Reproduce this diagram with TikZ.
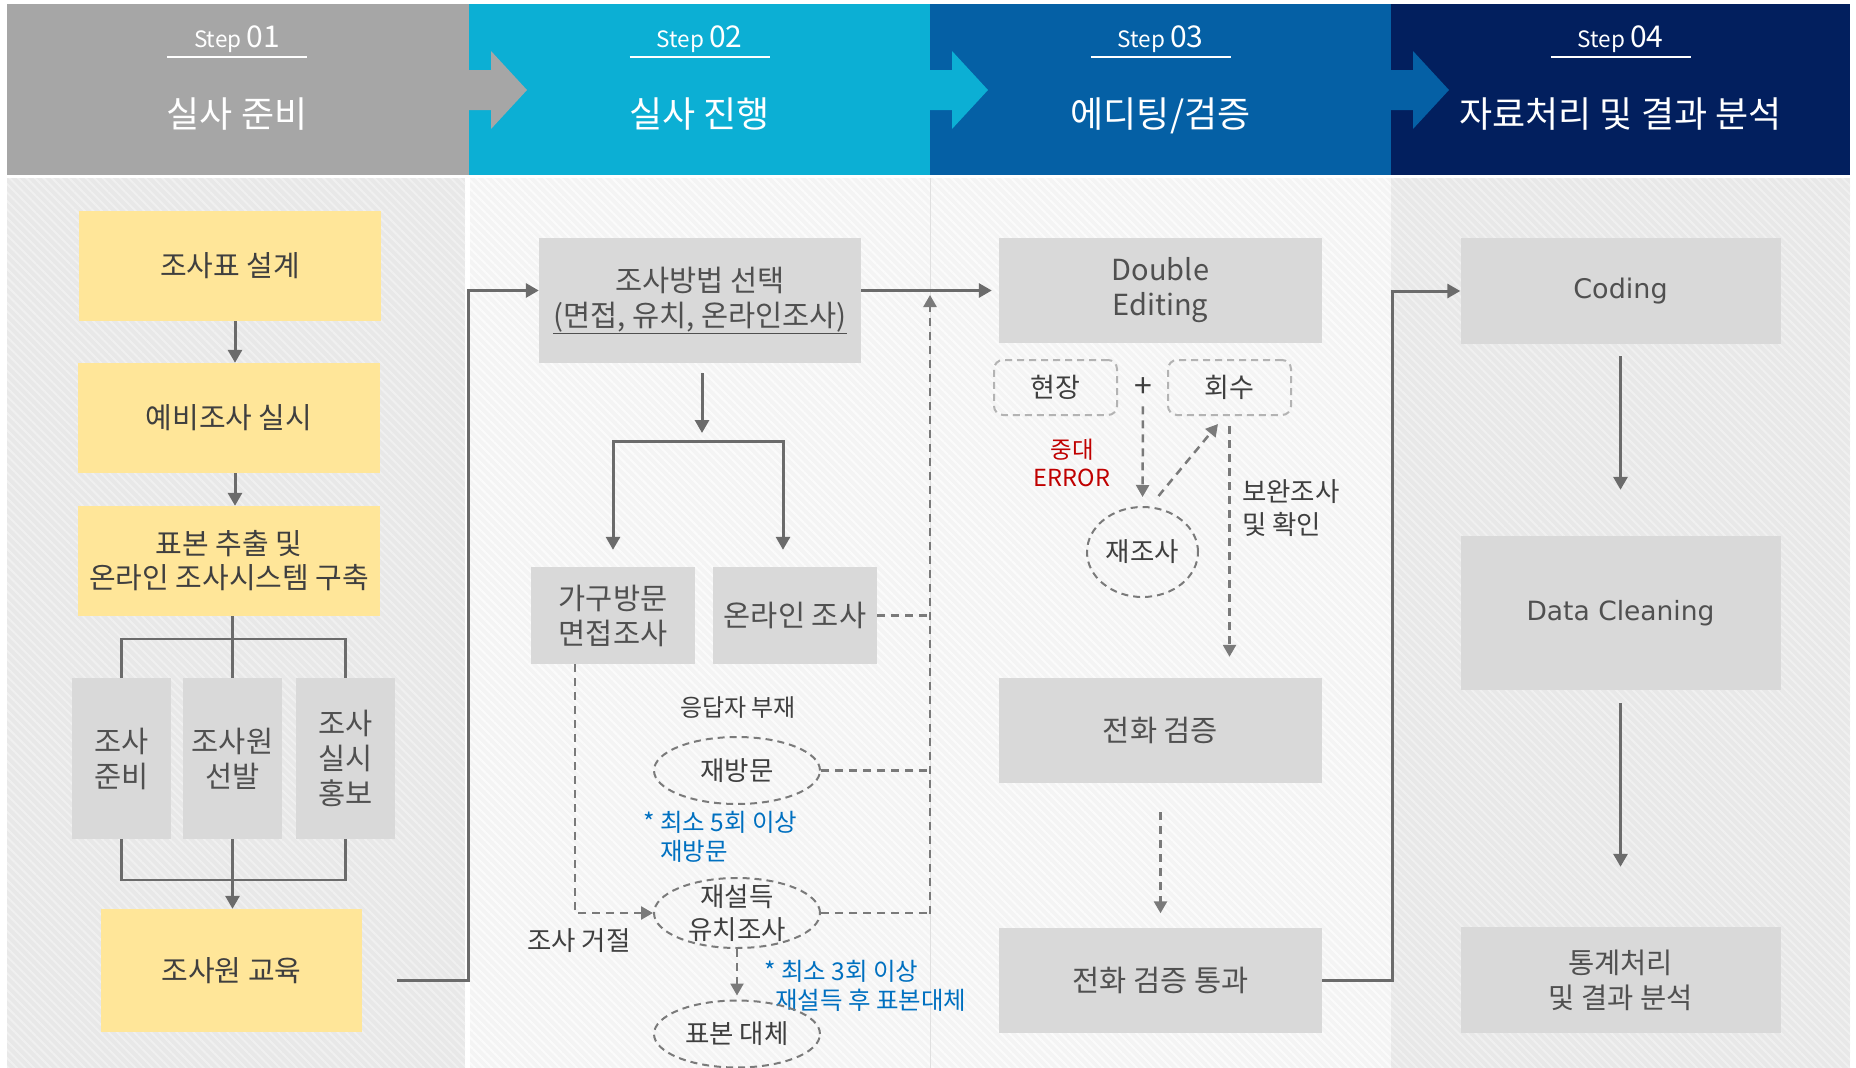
\documentclass[tikz,border=0pt]{standalone}
\usepackage{fontspec}
\setmainfont{Noto Sans CJK KR}
\newfontfamily\latinwide{DejaVu Sans}
\usetikzlibrary{shapes.geometric, arrows.meta, patterns.meta}

\definecolor{hdgray}{HTML}{A6A6A6}
\definecolor{hdcyan}{HTML}{0CAFD4}
\definecolor{hdblue}{HTML}{0560A5}
\definecolor{hdnavy}{HTML}{021F5E}
\definecolor{bgdark}{HTML}{E8E8E8}
\definecolor{bglight}{HTML}{F4F4F4}
\definecolor{stripedark}{HTML}{F0F0F0}
\definecolor{stripelight}{HTML}{FBFBFB}
\definecolor{boxyellow}{HTML}{FFE699}
\definecolor{boxgray}{HTML}{D9D9D9}
\definecolor{linegray}{HTML}{6B6B6B}
\definecolor{dashgray}{HTML}{7A7A7A}
\definecolor{framegray}{HTML}{B3B3B3}
\definecolor{txtdark}{HTML}{3F3F3F}
\definecolor{txtgray}{HTML}{505050}
\definecolor{noteblue}{HTML}{0070C0}
\definecolor{notered}{HTML}{C00000}

\begin{document}
\begin{tikzpicture}
  [x=1pt, y=-1pt,
  ybox/.style={rectangle, fill=boxyellow, text=txtdark, align=center,
    minimum width=302pt, minimum height=110pt, font=\fontsize{29}{34}\selectfont},
  sbox/.style={rectangle, fill=boxgray, text=txtgray, align=center,
    minimum width=99pt, minimum height=161pt, font=\fontsize{29.5}{35}\selectfont},
  gbox/.style={rectangle, fill=boxgray, text=txtgray, align=center,
    minimum width=323pt, minimum height=105pt, font=\fontsize{29.5}{35}\selectfont},
  dbox/.style={rectangle, rounded corners=9pt, draw=framegray, line width=2pt,
    dash pattern=on 7pt off 5pt, minimum width=123pt, minimum height=55pt,
    text=txtdark, font=\fontsize{27}{28}\selectfont},
  oval/.style={ellipse, draw=dashgray, line width=2pt, dash pattern=on 7pt off 5pt,
    inner sep=0pt, minimum width=166pt, minimum height=67pt, align=center,
    text=txtdark, font=\fontsize{26.5}{33}\selectfont},
  note/.style={text=txtdark, align=center, font=\fontsize{26.5}{33}\selectfont},
  bluenote/.style={text=noteblue, align=left, anchor=west, inner sep=0pt,
    font=\fontsize{24.5}{29}\selectfont},
  rednote/.style={text=notered, align=center, font=\fontsize{23.5}{28}\selectfont},
  steptext/.style={text=white, anchor=base, inner sep=0pt},
  line/.style={draw=linegray, line width=3pt, -{Triangle[width=14pt,length=13pt]}},
  bracket/.style={draw=linegray, line width=2.5pt},
  dline/.style={draw=dashgray, line width=2.5pt, dash pattern=on 8pt off 6pt,
    -{Triangle[width=13pt,length=12pt]}}]

  \useasboundingbox (0,0) rectangle (1856,1068);

  % backgrounds
  \fill [bgdark] (7,178) rectangle (465,1068);
  \fill [bglight] (470,178) rectangle (1391,1068);
  \fill [bgdark] (1391,178) rectangle (1850,1068);
  \fill [pattern={Lines[angle=-45,distance=6pt,line width=2pt]}, pattern color=stripedark]
    (7,178) rectangle (465,1068);
  \fill [pattern={Lines[angle=-45,distance=6pt,line width=2pt]}, pattern color=stripelight]
    (470,178) rectangle (1391,1068);
  \fill [pattern={Lines[angle=-45,distance=6pt,line width=2pt]}, pattern color=stripedark]
    (1391,178) rectangle (1850,1068);
  \draw [white!88!black, line width=1pt] (930,178) -- (930,1068);

  % header
  \fill [hdgray] (7,4) rectangle (469,175);
  \fill [hdcyan] (469,4) rectangle (930,175);
  \fill [hdblue] (930,4) rectangle (1391,175);
  \fill [hdnavy] (1391,4) rectangle (1850,175);
  \foreach \x/\c in {469/hdgray, 930/hdcyan, 1391/hdblue}
    \fill [\c] (\x,70) -- ++(22,0) -- ++(0,-19) -- ++(36,39) -- ++(-36,39)
      -- ++(0,-19) -- ++(-22,0) -- cycle;
  \foreach \cx/\n/\t in {237/01/{실사 준비}, 699.5/02/{실사 진행},
      1160.5/03/{에디팅/검증}, 1620.5/04/{자료처리 및 결과 분석}} {
    \node [steptext] (step\n) at (\cx,47)
      {\fontsize{22.5}{22}\selectfont Step \fontsize{30}{30}\selectfont\n};
    \draw [white, line width=1.5pt] (\cx-70,57) -- (\cx+70,57);
    \node [steptext] (title\n) at (\cx,127) {\fontsize{36}{36}\selectfont\t};
  }

  % step 01
  \node [ybox] (design) at (230,266) {조사표 설계};
  \node [ybox] (pilot) at (229,418) {예비조사 실시};
  \node [ybox] (sample) at (229,561) {표본 추출 및\\온라인 조사시스템 구축};
  \node [sbox] (prep) at (121.5,758.5) {조사\\준비};
  \node [sbox] (recruit) at (232.5,758.5) {조사원\\선발};
  \node [sbox] (promo) at (345.5,758.5) {조사\\실시\\홍보};
  \node [ybox, minimum width=261pt, minimum height=123pt] (train) at (231.5,970.5) {조사원 교육};
  \coordinate (trainout) at (397,980);

  % step 02
  \node [gbox, minimum width=322pt, minimum height=125pt] (method) at (700,300.5)
    {조사방법 선택\\\underline{(면접, 유치, 온라인조사)}};
  \coordinate (split) at (702,441);
  \node [gbox, minimum width=164pt, minimum height=97pt] (visit) at (613,615.5) {가구방문\\면접조사};
  \node [gbox, minimum width=164pt, minimum height=97pt] (online) at (795,615.5) {온라인 조사};
  \node [note, font=\fontsize{24}{26}\selectfont] (absent) at (738,708) {응답자 부재};
  \node [oval] (revisit) at (737,770.5) {재방문};
  \node [bluenote] (fivetimes) at (643,837) {* 최소 5회 이상\\\hspace*{17pt}재방문};
  \node [oval, minimum height=70pt, inner ysep=-8pt] (persuade) at (737,913) {재설득\\유치조사};
  \node [note] (refuse) at (579,941) {조사 거절};
  \node [bluenote] (threetimes) at (764,985.5) {* 최소 3회 이상\\\hspace*{11pt}재설득 후 표본대체};
  \node [oval] (replace) at (737,1034) {표본 대체};
  \coordinate (spinetop) at (930,295);
  \coordinate (spinebot) at (930,914);

  % step 03
  \node [gbox, font=\fontsize{29}{35}\selectfont] (dedit) at (1160.5,290.5) {Double\\Editing};
  \node [dbox] (field) at (1055.5,387.5) {현장};
  \node [note, font=\fontsize{32}{32}\selectfont] (plus) at (1143,388) {+};
  \node [dbox] (collect) at (1229.5,387.5) {회수};
  \node [rednote] (error) at (1072,463) {중대\\ERROR};
  \node [oval, minimum width=111pt, minimum height=90pt] (resurvey) at (1142.5,552) {재조사};
  \node [note, align=left, anchor=west, inner sep=0pt] (supplement) at (1242,508.5) {보완조사\\및 확인};
  \node [gbox] (verify) at (1160.5,730.5) {전화 검증};
  \node [gbox] (passed) at (1160.5,980) {전화 검증 통과};

  % step 04
  \node [gbox, minimum width=320pt, minimum height=106pt, font=\latinwide\fontsize{27}{30}\selectfont]
    (coding) at (1620.5,291) {Coding};
  \node [gbox, minimum width=320pt, minimum height=154pt, font=\latinwide\fontsize{26.5}{30}\selectfont]
    (cleaning) at (1620.5,613) {Data Cleaning};
  \node [gbox, minimum width=320pt, minimum height=106pt, font=\fontsize{28.5}{35}\selectfont]
    (stats) at (1620.5,980) {통계처리\\및 결과 분석};

  \draw [bracket] (prep.north) -- ++(0,-39) -| (promo.north);
  \draw [bracket] (recruit.north |- sample.south) -- (recruit.north);
  \draw [bracket] (prep.south) -- ++(0,41) -| (promo.south);

  \begin{scope}[every path/.style=line]
    \path ([xshift=5pt]design.south) -- ([xshift=5pt]design.south |- pilot.north);
    \path ([xshift=6pt]pilot.south) -- ([xshift=6pt]pilot.south |- sample.north);
    \path (recruit.south) -- (recruit.south |- train.north);
    \path (trainout) -- ++(71,0) |- (method.west |- dedit.west);
    \path [shorten >=7pt] (method.east |- dedit.west) -- (dedit.west);
    \path [shorten <=10pt, shorten >=8pt] (method.south -| split) -- (split);
    \path [shorten >=17pt] (split) -| (visit.north);
    \path [shorten >=17pt] (split) -| ([xshift=-12pt]online.north);
    \path (passed.east) -- ++(70,0) |- (coding.west);
    \path [shorten <=12pt, shorten >=46pt] (coding) -- (cleaning);
    \path [shorten <=13pt, shorten >=60pt] (cleaning) -- (stats);
  \end{scope}

  \begin{scope}[every path/.style=dline]
    \path (spinebot) -- (spinetop);
    \path [-] (online.east) -- (online.east -| spinebot);
    \path [-] (revisit.east) -- (revisit.east -| spinebot);
    \path [-] (persuade.east) -- (persuade.east -| spinebot);
    \path ([xshift=-38pt]visit.south) |- (persuade.west);
    \path [shorten >=4pt] (persuade) -- (replace);
    \path [shorten <=5pt, shorten >=9pt] (plus.south) -- (resurvey.north);
    \path ([xshift=16pt,yshift=10pt]resurvey.north) -- ([xshift=-11.5pt,yshift=-8pt]collect.south);
    \path [shorten <=10pt, shorten >=21pt] (collect.south) -- (collect.south |- verify.north);
    \path [shorten <=29pt, shorten >=14pt] (verify) -- (passed);
  \end{scope}
\end{tikzpicture}
\end{document}
